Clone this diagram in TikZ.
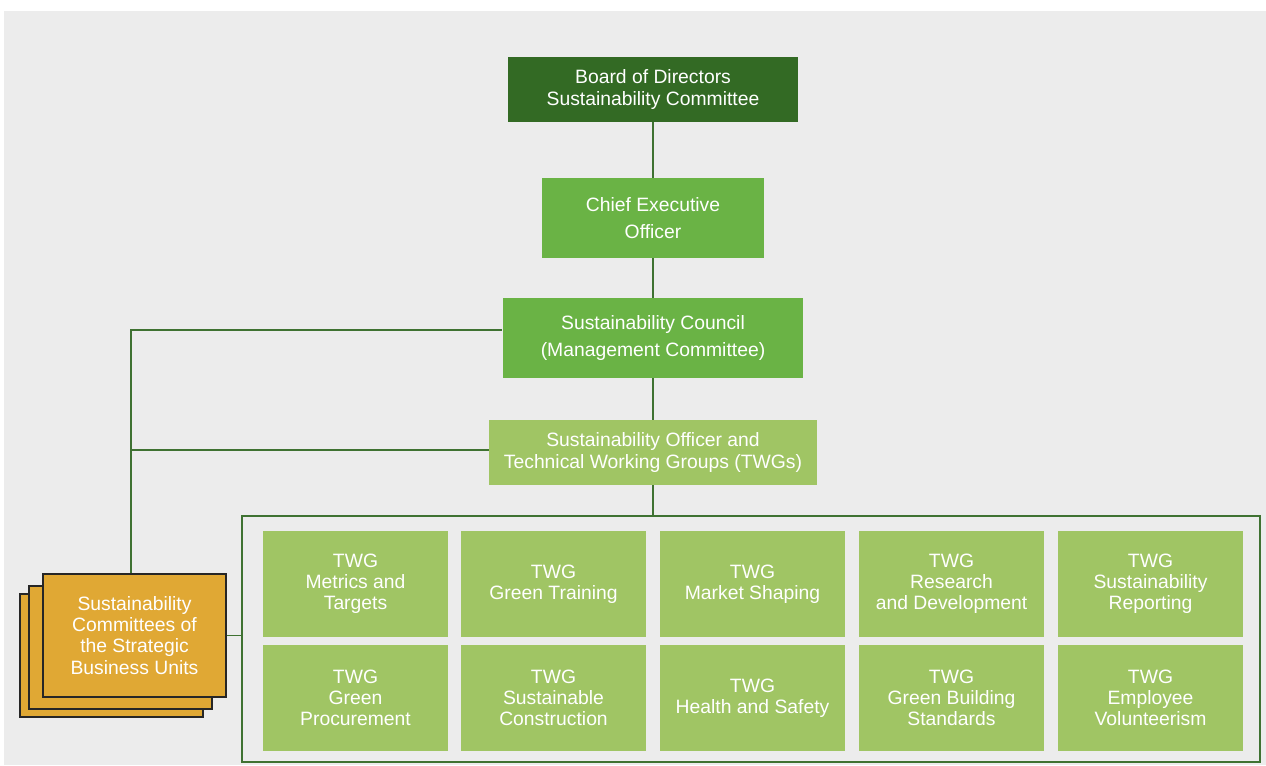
\documentclass[tikz,border=0pt]{standalone}
\usepackage{fontspec}
\setmainfont{Liberation Sans}
\usetikzlibrary{positioning}
\definecolor{bggray}{HTML}{ECECEC}
\definecolor{boardgreen}{HTML}{336A24}
\definecolor{midgreen}{HTML}{6AB345}
\definecolor{lightgreen}{HTML}{A0C564}
\definecolor{sbuorange}{HTML}{E0A834}
\definecolor{linegreen}{HTML}{3F7232}

\begin{document}
\begin{tikzpicture}[x=0.02cm, y=-0.02cm,
  box/.style={inner sep=0pt, align=center, text=white, font=\fontsize{11}{12}\selectfont},
  twgbox/.style={box, fill=lightgreen, minimum width=3.7cm, minimum height=2.12cm},
  sbubox/.style={box, fill=sbuorange, draw=black!85, line width=0.8pt, minimum width=3.66cm, minimum height=2.46cm},
  link/.style={draw=linegreen, line width=0.8pt}]
  \useasboundingbox (0,0) rectangle (1266,765);
  \fill[white] (0,0) rectangle (1266,765);
  \fill[bggray] (4,11) rectangle (1266,765);

  \node[box, fill=boardgreen, minimum width=5.82cm, minimum height=1.3cm] (board) at (653,89.5) {Board of Directors\\Sustainability Committee};
  \node[box, fill=midgreen, minimum width=4.46cm, minimum height=1.6cm, font=\fontsize{11}{15}\selectfont] (ceo) at (653,218) {Chief Executive\\Officer};
  \node[box, fill=midgreen, minimum width=6.02cm, minimum height=1.6cm, font=\fontsize{11}{15.5}\selectfont] (council) at (653,338) {Sustainability Council\\(Management Committee)};
  \node[box, fill=lightgreen, minimum width=6.56cm, minimum height=1.3cm] (officer) at (653,452.5) {Sustainability Officer and\\Technical Working Groups (TWGs)};

  \node[draw=linegreen, line width=0.8pt, inner sep=0pt, minimum width=20.36cm, minimum height=4.92cm] (twgarea) at (751,639) {};

  \node[twgbox] (metrics) at (355.5,584) {TWG\\Metrics and\\Targets};
  \node[twgbox] (training) at (553.5,584) {TWG\\Green Training};
  \node[twgbox] (market) at (752.5,584) {TWG\\Market Shaping};
  \node[twgbox] (research) at (951.5,584) {TWG\\Research\\and Development};
  \node[twgbox] (reporting) at (1150.5,584) {TWG\\Sustainability\\Reporting};
  \node[twgbox] (procurement) at (355.5,698) {TWG\\Green\\Procurement};
  \node[twgbox] (construction) at (553.5,698) {TWG\\Sustainable\\Construction};
  \node[twgbox] (safety) at (752.5,698) {TWG\\Health and Safety};
  \node[twgbox] (building) at (951.5,698) {TWG\\Green Building\\Standards};
  \node[twgbox] (volunteer) at (1150.5,698) {TWG\\Employee\\Volunteerism};

  \node[sbubox] (sbuback) at (111.5,655.5) {};
  \node[sbubox] (sbumid) at (120.5,647.5) {};
  \node[sbubox] (sbu) at (134.5,635.5) {Sustainability\\Committees of\\the Strategic\\Business Units};

  \coordinate (sbutop) at ([xshift=-0.07cm]sbu.north);
  \coordinate (councilin) at ([yshift=0.16cm]council.west);
  \coordinate (officerin) at ([yshift=0.05cm]officer.west);

  \draw[link] (board) -- (ceo);
  \draw[link] (ceo) -- (council);
  \draw[link] (council) -- (officer);
  \draw[link] (officer) -- (officer.south |- twgarea.north);
  \draw[link] (sbutop) |- (councilin);
  \draw[link] (sbutop |- officerin) -- (officerin);
  \draw[link] (sbu.east) -- (sbu.east -| twgarea.west);
\end{tikzpicture}
\end{document}
